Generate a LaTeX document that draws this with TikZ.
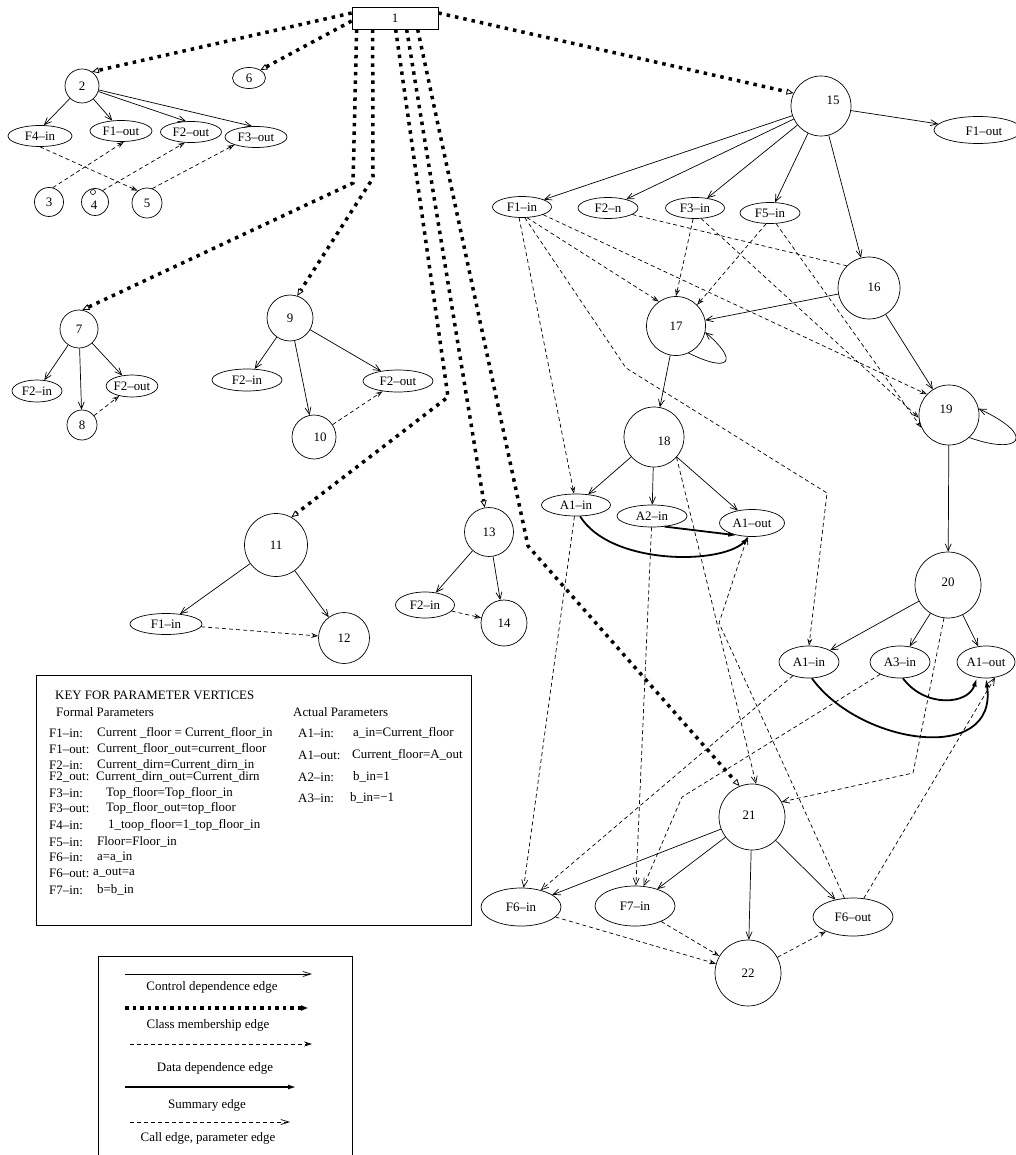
\documentclass[tikz,border=0pt]{standalone}
\usepackage{fontspec}
\setmainfont{Liberation Serif}
\usetikzlibrary{arrows.meta,shapes.geometric}
\begin{document}
\begin{tikzpicture}[x=1pt,y=-1pt,
  every node/.style={font=\fontsize{12.9}{15}\selectfont},
  circ/.style={circle,draw,line width=0.7pt,inner sep=0pt,minimum size=#1pt},
  ell/.style 2 args={ellipse,draw,line width=0.7pt,inner sep=0pt,minimum width=#1pt,minimum height=#2pt},
  ctrl/.style={line width=0.7pt,-{Straight Barb[length=7pt,width=6pt]}},
  cls/.style={line width=3.5pt,dash pattern=on 3.5pt off 5pt,-{Triangle[open,length=7pt,width=6pt,line width=0.8pt]}},
  ddep/.style={line width=0.7pt,dash pattern=on 4pt off 3pt,-{Stealth[open,length=7pt,width=5pt]}},
  summ/.style={line width=1.8pt,-{Latex[length=9pt,width=5pt]}},
  callp/.style={line width=0.7pt,dash pattern=on 4pt off 3pt,-{Straight Barb[length=7pt,width=6pt]}},
  kt/.style={anchor=west,inner sep=0pt},
  lt/.style={inner sep=0pt}
]
\useasboundingbox (0,0) rectangle (1015,1155);

% ---------- nodes ----------
\node[draw,line width=0.7pt,minimum width=86pt,minimum height=22pt,inner sep=0pt] (n1) at (395,18) {1};
\node[circ=34] (n2) at (82,86) {2};
\node[ell={33}{21}] (n6) at (249,78) {6};
\node[ell={64}{21}] (n2F4in) at (40,136) {F4–in};
\node[ell={62}{21}] (n2F1out) at (121,131) {F1–out};
\node[ell={61}{21}] (n2F2out) at (191,132) {F2–out};
\node[ell={62}{21}] (n2F3out) at (256,137) {F3–out};
\node[circ=29] (n3) at (49,202) {3};
\node[circ=27,label={[shift={(-1,3)}]center:4}] (n4) at (95,202) {};
\node[circle,draw,inner sep=0pt,minimum size=5pt,line width=0.6pt] (n4o) at (93,192) {};
\node[circ=30] (n5) at (147,203) {5};

\node[circ=38] (n7) at (79,329) {7};
\node[ell={50}{22}] (n7F2in) at (37,391) {F2–in};
\node[ell={50}{22}] (n7F2out) at (132,386) {F2–out};
\node[circ=30] (n8) at (82,425) {8};

\node[circ=46] (n9) at (290,318) {9};
\node[ell={70}{22}] (n9F2in) at (247,380) {F2–in};
\node[ell={70}{22}] (n9F2out) at (398,381) {F2–out};
\node[circ=44,label={[shift={(6,0)}]center:10}] (n10) at (314,437) {};

\node[circ=63] (n11) at (276,545) {11};
\node[ell={72}{21}] (n11F1in) at (166,624) {F1–in};
\node[circ=51] (n12) at (344,638) {12};

\node[circ=49] (n13) at (489,532) {13};
\node[ell={59}{26}] (n13F2in) at (425,605) {F2–in};
\node[circ=46] (n14) at (504,623) {14};

\node[circ=60,label={[shift={(12,-6)}]center:15}] (n15) at (821,106) {};
\node[ell={88}{27},label={[shift={(6,1)}]center:F1–out}] (n15F1out) at (978,130) {};
\node[ell={59}{21}] (F1in) at (522,207) {F1–in};
\node[ell={60}{21}] (F2n) at (608,208) {F2–n};
\node[ell={59}{21}] (F3in) at (695,208) {F3–in};
\node[ell={60}{21}] (F5in) at (770,213) {F5–in};
\node[circ=62,label={[shift={(5,-1)}]center:16}] (n16) at (869,288) {};
\node[circ=59] (n17) at (676,326) {17};
\node[circ=60,label={[shift={(10,4)}]center:18}] (n18) at (654,437) {};
\node[circ=60,label={[shift={(-3,-6)}]center:19}] (n19) at (949,415) {};
\node[ell={69}{22}] (A1in18) at (576,505) {A1–in};
\node[ell={70}{22}] (A2in) at (652,516) {A2–in};
\node[ell={65}{27}] (A1out18) at (752,523) {A1–out};
\node[circ=66,label={[shift={(0,-3)}]center:20}] (n20) at (948,585) {};
\node[ell={60}{32}] (A1in20) at (809,662) {A1–in};
\node[ell={60}{32}] (A3in) at (900,662) {A3–in};
\node[ell={58}{32}] (A1out20) at (986,662) {A1–out};
\node[circ=66,label={[shift={(-3,-2)}]center:21}] (n21) at (752,817) {};
\node[ell={80}{38}] (F6in) at (521,907) {F6–in};
\node[ell={80}{40}] (F7in) at (635,906) {F7–in};
\node[ell={80}{38}] (F6out) at (853,917) {F6–out};
\node[circ=66] (n22) at (748,973) {22};

% ---------- bend coordinates ----------
\coordinate (b7) at (353,183);
\coordinate (b9) at (373,178);
\coordinate (b11) at (448,397);
\coordinate (b21) at (528,546);
\coordinate (bF1a) at (626,368);
\coordinate (bF1b) at (827,493);
\coordinate (bF6) at (719,623);
\coordinate (b20) at (913,773);
\coordinate (bA3) at (682,797);

% ---------- class membership ----------
\draw[cls] ([yshift=5pt]n1.west) -- (n2.55);
\draw[cls] ([yshift=-3pt]n1.west) -- (n6.35);
\draw[cls] ([yshift=5pt]n1.east) -- (n15.155);
\draw[cls] ([xshift=5pt]n1.south west) -- (b7) -- (n7.80);
\draw[cls] ([xshift=21pt]n1.south west) -- (b9) -- (n9.72);
\draw[cls] ([xshift=44pt]n1.south west) -- (b11) -- (n11.61);
\draw[cls] ([xshift=55pt]n1.south west) -- (n13.100);
\draw[cls] ([xshift=66pt]n1.south west) -- (b21) -- (n21.112);

% ---------- group 2 ----------
\draw[ctrl] (n2) -- (n2F4in.70);
\draw[ctrl] (n2) -- (n2F1out.130);
\draw[ctrl] (n2) -- (n2F2out.115);
\draw[ctrl] (n2) -- (n2F3out.110);
\draw[ddep] (n2F4in.south) -- (n5.127);
\draw[ddep] (n3.75) -- (n2F1out.-75);
\draw[ddep] (n4.56) -- (n2F2out.-120);
\draw[ddep] (n5.70) -- (n2F3out.-160);

% ---------- group 7 ----------
\draw[ctrl] (n7) -- (n7F2in);
\draw[ctrl] (n7) -- (n8);
\draw[ctrl] (n7) -- (n7F2out);
\draw[ddep] (n8) -- (n7F2out);

% ---------- group 9 ----------
\draw[ctrl] (n9) -- (n9F2in);
\draw[ctrl] (n9) -- (n10);
\draw[ctrl] (n9) -- (n9F2out);
\draw[ddep] (n10) -- (n9F2out);

% ---------- group 11 / 13 ----------
\draw[ctrl] (n11) -- (n11F1in);
\draw[ctrl] (n11) -- (n12);
\draw[ddep] (n11F1in) -- (n12);
\draw[ctrl] (n13) -- (n13F2in);
\draw[ctrl] (n13) -- (n14);
\draw[ddep] (n13F2in) -- (n14);

% ---------- right side control ----------
\draw[ctrl] (n15) -- (n15F1out);
\draw[ctrl] (n15) -- (F1in);
\draw[ctrl] (n15) -- (F2n);
\draw[ctrl] (n15) -- (F3in);
\draw[ctrl] (n15) -- (F5in);
\draw[ctrl] (n15) -- (n16);
\draw[ctrl] (n16) -- (n17);
\draw[ctrl] (n16) -- (n19);
\draw[ctrl] (n17.-65) .. controls +(40,20) and +(35,30) .. (n17.-12);
\draw[ctrl] (n17) -- (n18);
\draw[ctrl] (n18) -- (A1in18);
\draw[ctrl] (n18) -- (A2in);
\draw[ctrl] (n18) -- (A1out18);
\draw[ctrl] (n19.-48) .. controls +(50,18) and +(60,28) .. (n19.12);
\draw[ctrl] (n19) -- (n20);
\draw[ctrl] (n20) -- (A1in20);
\draw[ctrl] (n20) -- (A3in);
\draw[ctrl] (n20) -- (A1out20);
\draw[ctrl] (n21) -- (F6in);
\draw[ctrl] (n21) -- (F7in);
\draw[ctrl] (n21) -- (n22);
\draw[ctrl] (n21) -- (F6out);

% ---------- data dependence ----------
\draw[ddep] (F1in.-105) -- (A1in18.100);
\draw[ddep] (F1in.-75) -- (bF1a) -- (bF1b) -- (A1in20.north);
\draw[ddep] (F1in.-65) -- (n17.125);
\draw[ddep] (F1in.-20) -- (n19.137);
\draw[line width=0.7pt,dash pattern=on 4pt off 3pt] (F2n.-15) -- (n16.135);
\draw[ddep] (F3in.-100) -- (n17.90);
\draw[ddep] (F3in.-60) -- (n19.185);
\draw[ddep] (F5in.-110) -- (n17.45);
\draw[ddep] (F5in.-60) -- (n19.205);
\draw[ddep] (F6in) -- (n22);
\draw[ddep] (F7in) -- (n22);
\draw[ddep] (n22) -- (F6out);

% ---------- summary ----------
\draw[summ] (A1in18.-70) .. controls (610,565) and (720,565) .. (A1out18.-100);
\draw[summ] (A2in.-40) -- (A1out18.-140);
\draw[summ] (A1in20.-80) .. controls (860,745) and (998,765) .. (A1out20.-90);
\draw[summ] (A3in.-80) .. controls (925,708) and (968,705) .. (A1out20.-120);

% ---------- call / parameter ----------
\draw[callp] (n18.-42) -- (n21.83);
\draw[callp] (n20.-97) -- (b20) -- (n21.27);
\draw[callp] (A1in18) -- (F6in);
\draw[callp] (A2in) -- (F7in);
\draw[callp] (F6out) -- (bF6) -- (A1out18);
\draw[callp] (F6out.60) -- (A1out20.-60);
\draw[callp] (A1in20) -- (F6in);
\draw[callp] (A3in) -- (bA3) -- (F7in);

% ---------- key box ----------
\node[draw,line width=0.7pt,anchor=north west,minimum width=435pt,minimum height=250pt,inner sep=0pt] (key) at (36,675) {};
\node[kt] (kh) at (55,695) {KEY FOR PARAMETER VERTICES};
\node[kt] (kf) at (56,712) {Formal Parameters};
\node[kt] (ka) at (293,712) {Actual Parameters};
\node[kt] (k1l) at (49,733) {F1–in:};   \node[kt] (k1v) at (97,733) {Current \_floor = Current\_floor\_in};
\node[kt] (k2l) at (49,749) {F1–out:};  \node[kt] (k2v) at (97,749) {Current\_floor\_out=current\_floor};
\node[kt] (k3l) at (49,765) {F2–in:};   \node[kt] (k3v) at (97,765) {Current\_dirn=Current\_dirn\_in};
\node[kt] (k4l) at (49,777) {F2\_out:}; \node[kt] (k4v) at (96,777) {Current\_dirn\_out=Current\_dirn};
\node[kt] (k5l) at (49,793) {F3–in:};   \node[kt] (k5v) at (106,793) {Top\_floor=Top\_floor\_in};
\node[kt] (k6l) at (49,808) {F3–out:};  \node[kt] (k6v) at (106,808) {Top\_floor\_out=top\_floor};
\node[kt] (k7l) at (49,825) {F4–in:};   \node[kt] (k7v) at (108,825) {1\_toop\_floor=1\_top\_floor\_in};
\node[kt] (k8l) at (49,842) {F5–in:};   \node[kt] (k8v) at (97,842) {Floor=Floor\_in};
\node[kt] (k9l) at (49,857) {F6–in:};   \node[kt] (k9v) at (97,857) {a=a\_in};
\node[kt] (k10l) at (49,873) {F6–out:}; \node[kt] (k10v) at (93,873) {a\_out=a};
\node[kt] (k11l) at (49,890) {F7–in:};  \node[kt] (k11v) at (97,890) {b=b\_in};
\node[kt] (ka1l) at (298,733) {A1–in:};  \node[kt] (ka1v) at (353,733) {a\_in=Current\_floor};
\node[kt] (ka2l) at (298,755) {A1–out:}; \node[kt] (ka2v) at (352,755) {Current\_floor=A\_out};
\node[kt] (ka3l) at (298,777) {A2–in:};  \node[kt] (ka3v) at (353,777) {b\_in=1};
\node[kt] (ka4l) at (298,798) {A3–in:};  \node[kt] (ka4v) at (350,798) {b\_in=−1};

% ---------- legend ----------
\node[draw,line width=0.7pt,anchor=north west,minimum width=254pt,minimum height=215pt,inner sep=0pt] (leg) at (98,956) {};
\draw[line width=0.7pt,-{Straight Barb[length=8pt,width=5pt]}] (125,974) -- (312,974);
\node[lt] (l1) at (212,987) {Control dependence edge};
\draw[line width=3.5pt,dash pattern=on 3.5pt off 4pt,-{Triangle[length=7pt,width=5pt]}] (125,1008) -- (308,1008);
\node[lt] (l2) at (208,1025) {Class membership edge};
\draw[line width=0.7pt,dash pattern=on 4pt off 3pt,-{Stealth[length=8pt,width=5pt]}] (130,1044) -- (312,1044);
\node[lt] (l3) at (215,1068) {Data dependence edge};
\draw[line width=1.8pt,-{Latex[length=9pt,width=5pt]}] (125,1087) -- (297,1087);
\node[lt] (l4) at (207,1105) {Summary edge};
\draw[line width=0.7pt,dash pattern=on 4pt off 3pt,-{Straight Barb[length=8pt,width=5pt]}] (130,1122) -- (290,1122);
\node[lt] (l5) at (208,1138) {Call edge, parameter edge};
\end{tikzpicture}
\end{document}
